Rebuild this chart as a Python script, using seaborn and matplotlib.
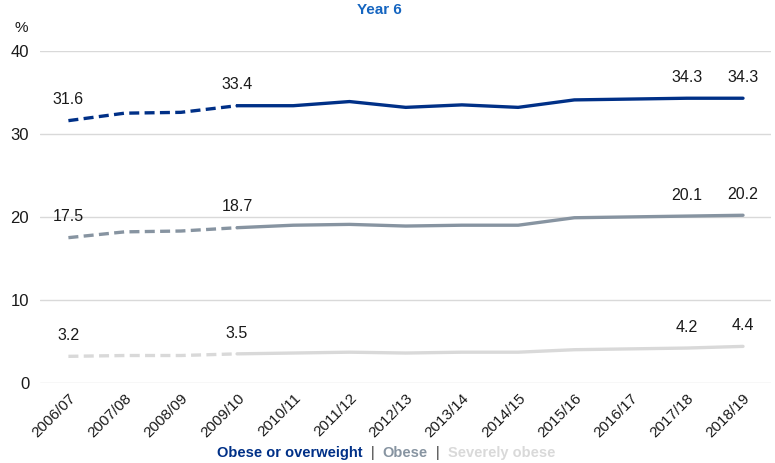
import numpy as np
import pandas as pd
import seaborn as sns
import matplotlib.pyplot as plt
from matplotlib.offsetbox import TextArea, HPacker, AnchoredOffsetbox

years = ['2006/07', '2007/08', '2008/09', '2009/10', '2010/11', '2011/12', '2012/13',
         '2013/14', '2014/15', '2015/16', '2016/17', '2017/18', '2018/19']
obese_or_overweight = [31.6, 32.5, 32.6, 33.4, 33.4, 33.9, 33.2, 33.5, 33.2, 34.1, 34.2, 34.3, 34.3]
obese = [17.5, 18.2, 18.3, 18.7, 19.0, 19.1, 18.9, 19.0, 19.0, 19.9, 20.0, 20.1, 20.2]
severely_obese = [3.2, 3.3, 3.3, 3.5, 3.6, 3.7, 3.6, 3.7, 3.7, 4.0, 4.1, 4.2, 4.4]
series_names = ['Obese or overweight', 'Obese', 'Severely obese']
colours = ['#003087', '#8794a1', '#d9d9d9']
labelled = [0, 3, 11, 12]
dashed_until = 3  # earlier years drawn dashed

sns.set_theme(style='white')
plt.rcParams['font.family'] = ['Liberation Sans', 'DejaVu Sans']

rows = []
for name, vals in zip(series_names, [obese_or_overweight, obese, severely_obese]):
    for i, v in enumerate(vals):
        rows.append({'pos': i, 'year': years[i], 'series': name, 'value': v})
df = pd.DataFrame(rows)

fig = plt.figure(figsize=(7.75, 4.63), dpi=100)
ax = fig.add_axes([0.052, 0.173, 0.943, 0.717])

pal = dict(zip(series_names, colours))
early = df[df['pos'] <= dashed_until]
late = df[df['pos'] >= dashed_until]
sns.lineplot(data=early, x='pos', y='value', hue='series', palette=pal, ax=ax,
             linewidth=2.4, linestyle=(0, (3, 1.6)), legend=False, sort=True)
sns.lineplot(data=late, x='pos', y='value', hue='series', palette=pal, ax=ax,
             linewidth=2.4, legend=False, sort=True)

for name, vals in zip(series_names, [obese_or_overweight, obese, severely_obese]):
    for i in labelled:
        ax.annotate(f'{vals[i]:.1f}', (i, vals[i]), xytext=(0, 15), textcoords='offset points',
                    ha='center', va='center', fontsize=11.5, color='#1a1a1a')

ax.set_xlim(-0.5, 12.5)
ax.set_ylim(0, 40)
ax.set_yticks([0, 10, 20, 30, 40])
ax.set_xticks(range(len(years)))
ax.set_xticklabels(years, rotation=45, ha='right', rotation_mode='anchor', fontsize=11)
ax.tick_params(axis='y', labelsize=12, length=0, pad=8, colors='#1a1a1a')
ax.tick_params(axis='x', length=0, pad=6, colors='#1a1a1a')
ax.grid(axis='y', color='#d9d9d9', linewidth=1)
for s in ax.spines.values():
    s.set_visible(False)
ax.set_xlabel('')
ax.set_ylabel('')

fig.text(0.028, 0.94, '%', fontsize=11, color='#1a1a1a', ha='center', va='center')
fig.text(0.49, 0.978, 'Year 6', fontsize=11, fontweight='bold', color='#1565c0',
         ha='center', va='center')

parts = []
for k, (name, col) in enumerate(zip(series_names, colours)):
    if k > 0:
        parts.append(TextArea('|', textprops=dict(color='#333333', fontsize=10.5)))
    parts.append(TextArea(name, textprops=dict(color=col, fontsize=10.5, fontweight='bold')))
box = HPacker(children=parts, align='center', pad=0, sep=6)
anchored = AnchoredOffsetbox(loc='center', child=box, frameon=False, pad=0,
                             bbox_to_anchor=(0.498, 0.022), bbox_transform=fig.transFigure)
fig.add_artist(anchored)

fig.savefig('out.png', dpi=100)
